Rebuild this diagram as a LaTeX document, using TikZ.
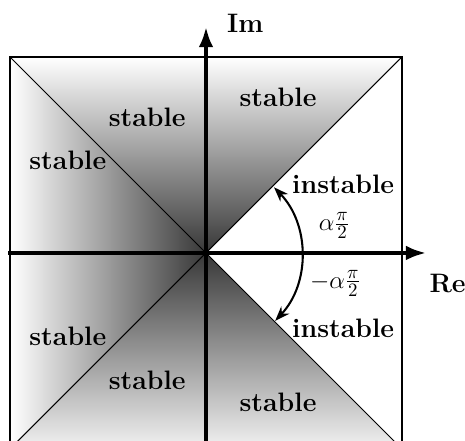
\documentclass[tikz,border=0pt]{standalone}
\usepackage{amsmath}
\usepackage{tikz}
\usetikzlibrary{arrows.meta, positioning, calc}

\begin{document}
\begin{tikzpicture}[font=\fontsize{15.5}{18}\selectfont\bfseries,
  axis/.style={line width=2.6pt, -{Latex[length=4.2mm, width=3mm]}},
  edge/.style={line width=0.6pt},
  lbl/.style={inner sep=1pt},
  ang/.style={line width=1.2pt, {Stealth[length=3mm, width=2.2mm]}-{Stealth[length=3mm, width=2.2mm]}}]
\useasboundingbox (-4.204,-3.837) rectangle (5.286,5.163);
% stable sectors
\fill[top color=white, bottom color=black!78] (0,0) -- (-4,4) -- (4,4) -- cycle;
\fill[left color=white, right color=black!78] (0,0) -- (-4,4) -- (-4,-4) -- cycle;
\fill[bottom color=white!95!black, top color=black!78] (0,0) -- (-4,-4) -- (4,-4) -- cycle;
\draw[edge] (-4,-4) rectangle (4,4);
\draw[edge] (-4,4) -- (4,-4);
\draw[edge] (-4,-4) -- (4,4);
% axes
\coordinate (xl) at (-4.04,0); \coordinate (xr) at (4.5,0);
\coordinate (yb) at (0,-4.1); \coordinate (yt) at (0,4.62);
\draw[axis] (xl) -- (xr);
\draw[axis] (yb) -- (yt);
\node[lbl] (im) at (0.8,4.68) {Im};
\node[lbl] (re) at (4.93,-0.62) {Re};
% angle
\coordinate (a1) at (44:1.93);
\draw[ang] (a1) arc (44:-43:1.98);
\node[lbl] (ap) at (2.62,0.56) {$\alpha\frac{\pi}{2}$};
\node[lbl] (am) at (2.64,-0.62) {$-\alpha\frac{\pi}{2}$};
% labels
\node[lbl] (s1) at (1.47,3.18) {stable};
\node[lbl] (s2) at (-1.2,2.76) {stable};
\node[lbl] (s3) at (-2.82,1.9) {stable};
\node[lbl] (u1) at (2.8,1.41) {instable};
\node[lbl] (u2) at (2.8,-1.53) {instable};
\node[lbl] (s4) at (-2.82,-1.71) {stable};
\node[lbl] (s5) at (-1.2,-2.59) {stable};
\node[lbl] (s6) at (1.47,-3.04) {stable};
\end{tikzpicture}
\end{document}
